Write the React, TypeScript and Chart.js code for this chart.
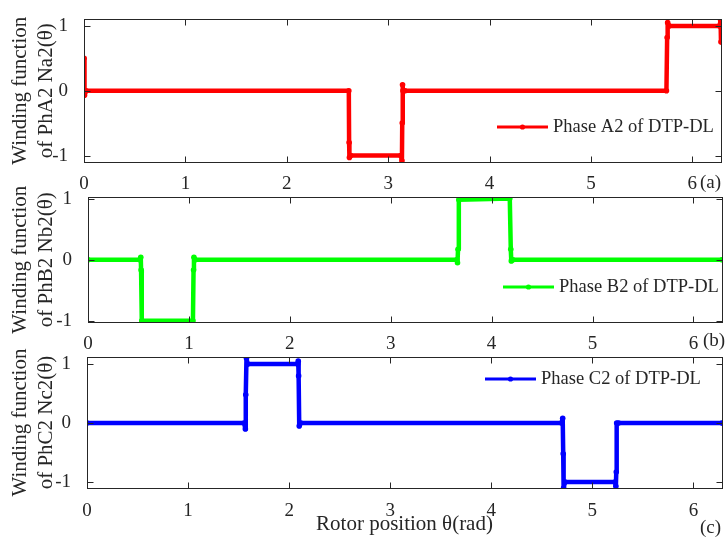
import React, { useEffect, useRef } from 'react';
import { Chart, registerables } from 'chart.js';

Chart.register(...registerables);

// ---------- data ----------
const xTickValues = [0, 1, 2, 3, 4, 5, 6];
const yTickValues = [-1, 0, 1];

const labelA = 'Phase A2 of DTP-DL';
const xA = [0, 0.005, 0.02, 2.612, 2.615, 2.618, 2.63, 3.125, 3.136, 3.139, 3.142, 3.146, 3.165, 5.745, 5.752, 5.757, 5.77, 6.27, 6.279, 6.283];
const yA = [0.5, -0.07, 0, 0, -0.8, -1.03, -1.0, -1.0, -1.08, -0.5, 0.09, 0.0, 0, 0, 0.82, 1.05, 1.0, 1.0, 1.09, 0.75];

const labelB = 'Phase B2 of DTP-DL';
const xB = [0, 0.515, 0.523, 0.526, 0.533, 1.04, 1.046, 1.05, 1.062, 3.655, 3.662, 3.667, 3.675, 4.18, 4.19, 4.195, 4.21, 6.283];
const yB = [0, 0, 0.04, -0.17, -1.0, -1.0, -0.17, 0.04, 0, 0, -0.05, 0.17, 0.98, 1.0, 0.17, -0.02, 0, 0];

const labelC = 'Phase C2 of DTP-DL';
const xC = [0, 1.555, 1.567, 1.571, 1.578, 1.59, 2.085, 2.09, 2.094, 2.1, 2.115, 4.695, 4.707, 4.712, 4.716, 4.73, 5.225, 5.233, 5.237, 5.241, 5.26, 6.283];
const yC = [0, 0, -0.1, 0.48, 1.1, 1.0, 1.0, 1.05, 0.8, -0.05, 0, 0, 0.08, -0.52, -1.1, -1.0, -1.0, -1.07, -0.83, 0.0, 0, 0];

const yTitleA = ['Winding function', 'of PhA2 Na2(\u03B8)'];
const yTitleB = ['Winding function', 'of PhB2 Nb2(\u03B8)'];
const yTitleC = ['Winding function', 'of PhC2 Nc2(\u03B8)'];
const xTitleC = 'Rotor position \u03B8(rad)';
const tagA = '(a)';
const tagB = '(b)';
const tagC = '(c)';

// ---------- styling ----------
const FONT = '"Liberation Serif", "Times New Roman", serif';
const TEXT = '#262626';
const TICK_SIZE = 19;
const TITLE_SIZE = 21;
const LEGEND_SIZE = 18.5;

const decoPlugin = {
  id: 'deco',
  afterDatasetsDraw(chart: any, _args: any, opts: any) {
    const ctx = chart.ctx;
    const { left, right, top, bottom } = chart.chartArea;
    ctx.save();
    ctx.strokeStyle = TEXT;
    ctx.lineWidth = 1;
    const L = Math.round(left) + 0.5, R = Math.round(right) + 0.5;
    const T = Math.round(top) + 0.5, B = Math.round(bottom) + 0.5;
    ctx.strokeRect(L, T, R - L, B - T);
    const tl = 6;
    ctx.beginPath();
    for (const t of chart.scales.x.ticks) {
      const px = Math.round(chart.scales.x.getPixelForValue(t.value)) + 0.5;
      ctx.moveTo(px, B); ctx.lineTo(px, B - tl);
      ctx.moveTo(px, T); ctx.lineTo(px, T + tl);
    }
    for (const t of chart.scales.y.ticks) {
      const py = Math.round(chart.scales.y.getPixelForValue(t.value)) + 0.5;
      ctx.moveTo(L, py); ctx.lineTo(L + tl, py);
      ctx.moveTo(R, py); ctx.lineTo(R - tl, py);
    }
    ctx.stroke();

    // legend sample
    const ds = chart.data.datasets[0];
    ctx.strokeStyle = ds.borderColor;
    ctx.lineWidth = 3;
    ctx.beginPath();
    ctx.moveTo(opts.lx1, opts.ly);
    ctx.lineTo(opts.lx2, opts.ly);
    ctx.stroke();
    ctx.fillStyle = ds.borderColor;
    ctx.beginPath();
    ctx.arc((opts.lx1 + opts.lx2) / 2, opts.ly, 2.6, 0, Math.PI * 2);
    ctx.fill();
    ctx.fillStyle = TEXT;
    ctx.font = `${LEGEND_SIZE}px ${FONT}`;
    ctx.textBaseline = 'middle';
    ctx.textAlign = 'left';
    ctx.fillText(ds.label, opts.lx2 + 5, opts.ly);

    // panel tag
    ctx.font = `${TICK_SIZE}px ${FONT}`;
    ctx.fillText(opts.tag, opts.tagX, opts.tagY);
    ctx.restore();
  },
};

type PanelProps = {
  top: number;
  height: number;
  xs: number[];
  ys: number[];
  label: string;
  color: string;
  yTitle: string[];
  xTitle?: string;
  yMin: number;
  yMax: number;
  padTop: number;
  padRight: number;
  yAxisW: number;
  xAxisH: number;
  xTickPad: number;
  deco: any;
};

function Panel(p: PanelProps) {
  const ref = useRef<HTMLCanvasElement | null>(null);
  useEffect(() => {
    if (!ref.current) return;
    const font = { family: FONT, size: TICK_SIZE };
    const chart = new Chart(ref.current, {
      type: 'line',
      data: {
        datasets: [
          {
            label: p.label,
            data: p.xs.map((x, i) => ({ x, y: p.ys[i] })),
            borderColor: p.color,
            backgroundColor: p.color,
            borderWidth: 4.5,
            borderJoinStyle: 'round',
            borderCapStyle: 'round',
            pointRadius: 2.8,
            pointHoverRadius: 2.8,
            pointBorderWidth: 0,
            tension: 0,
            fill: false,
          },
        ],
      },
      options: {
        responsive: false,
        animation: false,
        devicePixelRatio: 1,
        events: [],
        layout: { padding: { left: 0, top: p.padTop, right: p.padRight, bottom: 0 } },
        plugins: {
          legend: { display: false },
          tooltip: { enabled: false },
          deco: p.deco,
        } as any,
        scales: {
          x: {
            type: 'linear',
            min: 0,
            max: 2 * Math.PI,
            afterBuildTicks: (s: any) => {
              s.ticks = xTickValues.map((v) => ({ value: v }));
            },
            afterFit: (s: any) => {
              s.height = p.xAxisH;
            },
            grid: { display: false },
            border: { display: false },
            ticks: { padding: p.xTickPad, font, color: TEXT, maxRotation: 0, autoSkip: false },
            title: p.xTitle
              ? {
                  display: true,
                  text: p.xTitle,
                  font: { family: FONT, size: TITLE_SIZE },
                  color: TEXT,
                  padding: { top: 0, bottom: 6 },
                }
              : { display: false },
          },
          y: {
            type: 'linear',
            min: p.yMin,
            max: p.yMax,
            afterBuildTicks: (s: any) => {
              s.ticks = yTickValues.map((v) => ({ value: v }));
            },
            afterFit: (s: any) => {
              s.width = p.yAxisW;
            },
            grid: { display: false },
            border: { display: false },
            ticks: { padding: 8, font, color: TEXT },
            title: {
              display: true,
              text: p.yTitle,
              font: { family: FONT, size: TITLE_SIZE, lineHeight: 1.24 },
              color: TEXT,
              padding: { top: 7, bottom: 0 },
            },
          },
        },
      } as any,
      plugins: [decoPlugin as any],
    });
    return () => chart.destroy();
  }, []);
  return (
    <canvas
      ref={ref}
      width={727}
      height={p.height}
      style={{ position: 'absolute', left: 0, top: p.top, width: 727, height: p.height }}
    />
  );
}

export default function App() {
  return (
    <div style={{ position: 'absolute', left: 0, top: 0, width: 727, height: 543, background: '#fff', overflow: 'hidden' }}>
      <Panel
        top={0}
        height={200}
        xs={xA}
        ys={yA}
        label={labelA}
        color="#ff0000"
        yTitle={yTitleA}
        yMin={-1.1}
        yMax={1.1}
        padTop={15}
        padRight={6}
        yAxisW={84}
        xAxisH={38}
        xTickPad={3}
        deco={{ lx1: 497, lx2: 548, ly: 127, tag: tagA, tagX: 700, tagY: 183 }}
      />
      <Panel
        top={178}
        height={180}
        xs={xB}
        ys={yB}
        label={labelB}
        color="#00ff00"
        yTitle={yTitleB}
        yMin={-1.02}
        yMax={1.02}
        padTop={18}
        padRight={5}
        yAxisW={88}
        xAxisH={36}
        xTickPad={3}
        deco={{ lx1: 503, lx2: 554, ly: 109, tag: tagB, tagX: 703, tagY: 163 }}
      />
      <Panel
        top={335}
        height={208}
        xs={xC}
        ys={yC}
        label={labelC}
        color="#0000ff"
        yTitle={yTitleC}
        xTitle={xTitleC}
        yMin={-1.1}
        yMax={1.12}
        padTop={22}
        padRight={5}
        yAxisW={87}
        xAxisH={55}
        xTickPad={4}
        deco={{ lx1: 485, lx2: 536, ly: 44, tag: tagC, tagX: 700, tagY: 193 }}
      />
    </div>
  );
}
